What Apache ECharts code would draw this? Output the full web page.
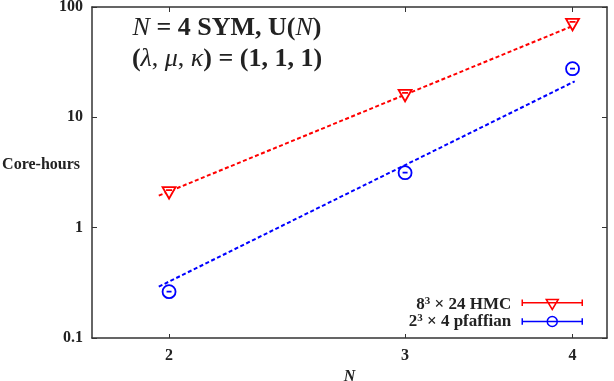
<!DOCTYPE html>
<html>
<head>
<meta charset="utf-8">
<script src="https://cdn.jsdelivr.net/npm/echarts@6/dist/echarts.min.js"></script>
<style>
  html, body { margin: 0; padding: 0; background: #fff; }
  #chart { width: 614px; height: 381px; }
</style>
</head>
<body>
<div id="chart"></div>
<script>
// N values and measured cost (core-hours)
const nValues = [2, 3, 4];
const hmcHours = [2.07, 15.7, 69.2];
const pfaffianHours = [0.263, 3.15, 27.6];

// fitted power-law lines (end points)
const fitN = [1.965, 4.015];
const hmcFit = [1.95, 68.5];
const pfaffianFit = [0.292, 21.2];

const xTicks = [2, 3, 4];
const legendNames = ['8³ × 24 HMC', '2³ × 4 pfaffian'];

const serif = 'Liberation Serif';
const red = '#ff0000';
const blue = '#0000ff';
const frame = '#333';

const triSymbol = 'path://M0,0 L13,0 L6.5,11.5 Z M3.5,3 L9.5,3';
const circSymbol = 'path://M6.5,0 A6.5,6.5 0 1 1 6.5,13 A6.5,6.5 0 1 1 6.5,0 Z M4,6.5 L9,6.5';
const triIcon = 'path://M0,0 L0,6.6 M0,3.3 L60,3.3 M60,0 L60,6.6 M24,0 L36,0 L30,10 Z';
const circIcon = 'path://M0,1.7 L0,8.3 M0,5 L60,5 M60,1.7 L60,8.3 M30,0 A5,5 0 1 1 30,10 A5,5 0 1 1 30,0 Z';

function zip(xs, ys) {
    return xs.map((x, i) => [x, ys[i]]);
}

const tickLabel = { fontFamily: serif, fontWeight: 'bold', fontSize: 16, color: '#222' };

function xAxisDef(pos, showLabel) {
    return {
        type: 'log',
        position: pos,
        min: 1.752,
        max: 4.244,
        axisLine: { show: true, lineStyle: { color: frame, width: 1.5 } },
        axisTick: { show: true, inside: true, length: pos === 'top' ? 5 : 4, customValues: xTicks, lineStyle: { color: frame } },
        axisLabel: Object.assign({ show: showLabel, margin: 10, customValues: xTicks }, tickLabel),
        minorTick: { show: false },
        splitLine: { show: false }
    };
}

function yAxisDef(pos, showLabel) {
    return {
        type: 'log',
        position: pos,
        min: 0.1,
        max: 100,
        logBase: 10,
        axisLine: { show: true, lineStyle: { color: frame, width: 1.5 } },
        axisTick: { show: true, inside: true, length: 5, lineStyle: { color: frame } },
        axisLabel: Object.assign({ show: showLabel, margin: 9 }, tickLabel),
        splitLine: { show: false }
    };
}

const chart = echarts.init(document.getElementById('chart'));

const xBottom = xAxisDef('bottom', true);
xBottom.name = 'N';
xBottom.nameLocation = 'middle';
xBottom.nameGap = 30;
xBottom.nameTextStyle = { fontFamily: serif, fontWeight: 'bold', fontStyle: 'italic', fontSize: 16, color: '#222' };

const yLeft = yAxisDef('left', true);
yLeft.name = 'Core-hours';
yLeft.nameLocation = 'middle';
yLeft.nameRotate = 0;
yLeft.nameGap = 12;
yLeft.nameMoveOverlap = false;
yLeft.nameTextStyle = { fontFamily: serif, fontWeight: 'bold', fontSize: 16, color: '#222', verticalAlign: 'bottom' };

const legendText = { fontFamily: serif, fontWeight: 'bold', fontSize: 17, color: '#222' };

chart.setOption({
    animation: false,
    backgroundColor: '#fff',
    grid: { left: 92, right: 7, top: 7, bottom: 43, outerBoundsMode: 'none', containLabel: false },
    xAxis: [xBottom, xAxisDef('top', false)],
    yAxis: [yLeft, yAxisDef('right', false)],
    legend: {
        orient: 'vertical',
        right: 26,
        top: 291,
        align: 'right',
        itemWidth: 60,
        itemHeight: 10,
        itemGap: 0,
        selectedMode: false,
        formatter: name => name.replace('³', '{sup|3}'),
        textStyle: Object.assign({
            lineHeight: 17,
            padding: [0, 6, 0, 0],
            rich: {
                sup: { fontFamily: serif, fontWeight: 'bold', fontSize: 11, color: '#222', verticalAlign: 'top', lineHeight: 17 }
            }
        }, legendText),
        data: [
            { name: legendNames[0], icon: triIcon, itemStyle: { color: '#fff', borderColor: red, borderWidth: 1.5 } },
            { name: legendNames[1], icon: circIcon, itemStyle: { color: '#fff', borderColor: blue, borderWidth: 1.5 } }
        ]
    },
    graphic: [{
        type: 'text',
        x: 227,
        y: 13,
        style: {
            text: '{cal|N}{b| = 4 SYM, U(}{it|N}{b|)}\n{b|(}{gk|λ}{n|, }{gk|μ}{n|, }{gk|κ}{b|) = (1, 1, 1)}',
            align: 'center',
            verticalAlign: 'top',
            fill: '#222',
            rich: {
                b: { fontFamily: serif, fontWeight: 'bold', fontSize: 26, lineHeight: 31, fill: '#222' },
                n: { fontFamily: serif, fontWeight: 'normal', fontSize: 26, lineHeight: 31, fill: '#222' },
                it: { fontFamily: serif, fontStyle: 'italic', fontWeight: 'normal', fontSize: 26, lineHeight: 31, fill: '#222' },
                cal: { fontFamily: serif, fontStyle: 'italic', fontWeight: 'normal', fontSize: 26, lineHeight: 31, fill: '#222' },
                gk: { fontFamily: serif, fontStyle: 'italic', fontWeight: 'normal', fontSize: 26, lineHeight: 31, fill: '#222' }
            }
        }
    }],
    series: [
        {
            name: 'hmc fit',
            type: 'line',
            data: zip(fitN, hmcFit),
            symbol: 'none',
            lineStyle: { color: red, width: 2, type: [4, 2.5] },
            z: 2
        },
        {
            name: 'pfaffian fit',
            type: 'line',
            data: zip(fitN, pfaffianFit),
            symbol: 'none',
            lineStyle: { color: blue, width: 2, type: [4, 2.5] },
            z: 2
        },
        {
            name: legendNames[0],
            type: 'scatter',
            data: zip(nValues, hmcHours),
            symbol: triSymbol,
            symbolSize: [13, 11.5],
            itemStyle: { color: '#fff', borderColor: red, borderWidth: 1.8, opacity: 1 },
            z: 5
        },
        {
            name: legendNames[1],
            type: 'scatter',
            data: zip(nValues, pfaffianHours),
            symbol: circSymbol,
            symbolSize: 13,
            itemStyle: { color: '#fff', borderColor: blue, borderWidth: 1.8, opacity: 1 },
            z: 5
        }
    ]
});
</script>
</body>
</html>
